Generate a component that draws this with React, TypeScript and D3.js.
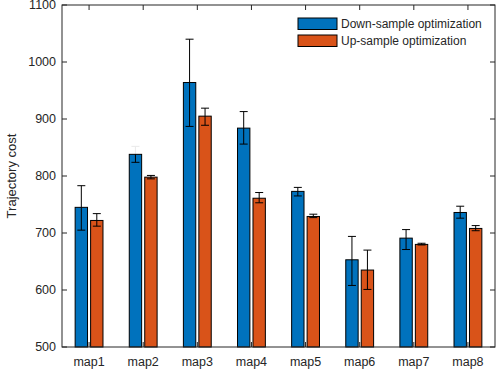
import React from 'react';
import * as d3 from 'd3';

const maps = ['map1', 'map2', 'map3', 'map4', 'map5', 'map6', 'map7', 'map8'];
const seriesNames = ['Down-sample optimization', 'Up-sample optimization'];
const downMean = [745, 838, 964, 884, 773, 653, 691, 736];
const downLow = [705, 824, 887, 856, 765, 608, 671, 726];
const downHigh = [783, 852, 1040, 913, 780, 694, 706, 747];
const upMean = [722, 798, 905, 761, 729, 635, 680, 708];
const upLow = [712, 795, 889, 753, 727, 601, 679, 704];
const upHigh = [734, 801, 919, 771, 733, 670, 682, 713];
const yTicks = [500, 600, 700, 800, 900, 1000, 1100];

const COLORS = ['#0072BD', '#D95319'];
const TXT = '#262626';
const FONT = 'Liberation Sans, Arial, sans-serif';

export default function App() {
  const W = 500, H = 370;
  const m = { left: 62, right: 5, top: 5, bottom: 23 };
  const x = d3.scaleLinear().domain([0.5, 8.5]).range([m.left, W - m.right]);
  const y = d3.scaleLinear().domain([500, 1100]).range([H - m.bottom, m.top]);
  const unit = x(2) - x(1);
  const offset = 0.1429 * unit;
  const bw = 0.2286 * unit;
  const cap = 4;

  const series = [
    { mean: downMean, low: downLow, high: downHigh },
    { mean: upMean, low: upLow, high: upHigh },
  ];

  const x0 = m.left, x1 = W - m.right, y0 = H - m.bottom, y1 = m.top;

  return (
    <svg width={W} height={H} style={{ position: 'absolute', left: 0, top: 0, background: '#fff' }}
      fontFamily={FONT}>
      {/* bars */}
      {series.map((s, si) =>
        s.mean.map((v, i) => {
          const cx = x(i + 1) + (si === 0 ? -offset : offset);
          return (
            <rect key={`b${si}-${i}`} x={cx - bw / 2} y={y(v)} width={bw} height={y(500) - y(v)}
              fill={COLORS[si]} stroke="#000" strokeWidth={1} />
          );
        })
      )}
      {/* error bars */}
      {series.map((s, si) =>
        s.mean.map((v, i) => {
          const cx = x(i + 1) + (si === 0 ? -offset : offset);
          // the upper whisker of map2 (down-sample) is nearly invisible in the source
          const faintTop = si === 0 && i === 1;
          return (
            <g key={`e${si}-${i}`} stroke="#000" strokeWidth={1}>
              <line x1={cx} x2={cx} y1={y(v)} y2={y(s.low[i])} />
              <line x1={cx - cap} x2={cx + cap} y1={y(s.low[i])} y2={y(s.low[i])} />
              <g opacity={faintTop ? 0.08 : 1}>
                <line x1={cx} x2={cx} y1={y(s.high[i])} y2={y(v)} />
                <line x1={cx - cap} x2={cx + cap} y1={y(s.high[i])} y2={y(s.high[i])} />
              </g>
            </g>
          );
        })
      )}
      {/* axes box */}
      <rect x={x0} y={y1} width={x1 - x0} height={y0 - y1} fill="none" stroke={TXT} strokeWidth={1} />
      {yTicks.map(t => (
        <g key={`yt${t}`}>
          <line x1={x0} x2={x0 + 5} y1={y(t)} y2={y(t)} stroke={TXT} />
          <line x1={x1} x2={x1 - 5} y1={y(t)} y2={y(t)} stroke={TXT} />
          <text x={x0 - 6} y={y(t)} dy="0.35em" textAnchor="end" fontSize={12.5} fill={TXT}>{t}</text>
        </g>
      ))}
      {maps.map((name, i) => (
        <g key={`xt${name}`}>
          <line x1={x(i + 1)} x2={x(i + 1)} y1={y0} y2={y0 - 5} stroke={TXT} />
          <line x1={x(i + 1)} x2={x(i + 1)} y1={y1} y2={y1 + 5} stroke={TXT} />
          <text x={x(i + 1)} y={y0 + 19} textAnchor="middle" fontSize={12.5} fill={TXT}>{name}</text>
        </g>
      ))}
      <text transform={`translate(16,${(y0 + y1) / 2}) rotate(-90)`} textAnchor="middle"
        fontSize={13} fill={TXT}>Trajectory cost</text>
      {/* legend */}
      {seriesNames.map((name, i) => (
        <g key={`lg${i}`} transform={`translate(298,${18 + i * 17})`}>
          <rect x={0} y={0} width={39} height={11.5} fill={COLORS[i]} stroke="#000" strokeWidth={1} />
          <text x={43} y={6} dy="0.35em" fontSize={12} fill={TXT}>{name}</text>
        </g>
      ))}
    </svg>
  );
}
